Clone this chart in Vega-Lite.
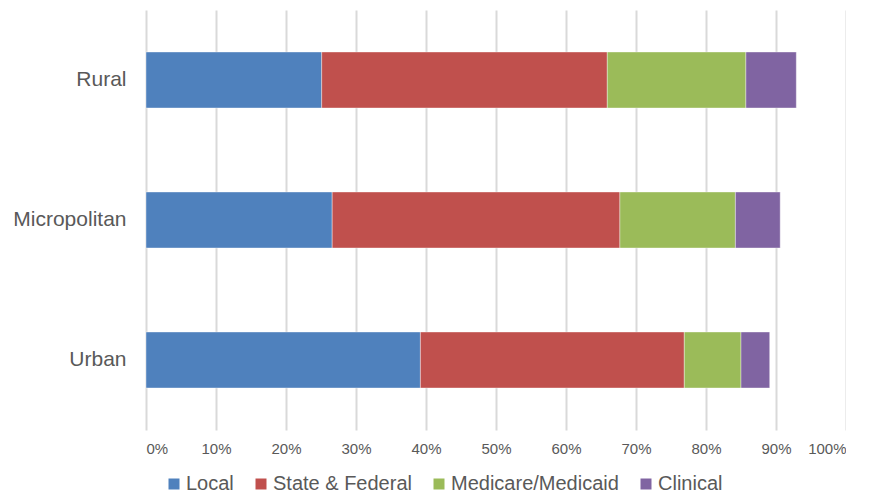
{
  "$schema": "https://vega.github.io/schema/vega-lite/v6.json",
  "width": 700,
  "height": 420,
  "padding": {"left": 12, "top": 10, "right": 0, "bottom": 0},
  "background": "#ffffff",
  "config": {
    "view": {"stroke": null},
    "font": "Liberation Sans",
    "axis": {"labelFont": "Liberation Sans", "labelColor": "#595959"}
  },
  "data": {
    "values": [
      {"area": "Rural", "source": "Local", "order": 1, "pct": 25.1},
      {"area": "Rural", "source": "State & Federal", "order": 2, "pct": 40.8},
      {"area": "Rural", "source": "Medicare/Medicaid", "order": 3, "pct": 19.8},
      {"area": "Rural", "source": "Clinical", "order": 4, "pct": 7.2},
      {"area": "Micropolitan", "source": "Local", "order": 1, "pct": 26.6},
      {"area": "Micropolitan", "source": "State & Federal", "order": 2, "pct": 41.1},
      {"area": "Micropolitan", "source": "Medicare/Medicaid", "order": 3, "pct": 16.5},
      {"area": "Micropolitan", "source": "Clinical", "order": 4, "pct": 6.4},
      {"area": "Urban", "source": "Local", "order": 1, "pct": 39.2},
      {"area": "Urban", "source": "State & Federal", "order": 2, "pct": 37.7},
      {"area": "Urban", "source": "Medicare/Medicaid", "order": 3, "pct": 8.1},
      {"area": "Urban", "source": "Clinical", "order": 4, "pct": 4.1}
    ]
  },
  "mark": {"type": "bar", "stroke": "#ffffff", "strokeWidth": 0.75, "strokeOpacity": 0.5},
  "encoding": {
    "y": {
      "field": "area",
      "type": "nominal",
      "sort": ["Rural", "Micropolitan", "Urban"],
      "scale": {"paddingInner": 0.6, "paddingOuter": 0.3},
      "axis": {
        "title": null,
        "domain": false,
        "ticks": false,
        "labelFontSize": 21,
        "labelPadding": 20,
        "grid": false
      }
    },
    "x": {
      "field": "pct",
      "type": "quantitative",
      "stack": "zero",
      "scale": {"domain": [0, 100], "nice": false},
      "axis": {
        "title": null,
        "values": [0, 10, 20, 30, 40, 50, 60, 70, 80, 90, 100],
        "labelExpr": "datum.value + '%'",
        "domain": false,
        "ticks": false,
        "grid": true,
        "gridColor": "#d9d9d9",
        "gridWidth": 2,
        "labelFontSize": 15,
        "labelPadding": 11
      }
    },
    "color": {
      "field": "source",
      "type": "nominal",
      "scale": {
        "domain": ["Local", "State & Federal", "Medicare/Medicaid", "Clinical"],
        "range": ["#4f81bd", "#c0504d", "#9bbb59", "#8064a2"]
      },
      "legend": {
        "title": null,
        "orient": "none",
        "direction": "horizontal",
        "legendX": 18,
        "legendY": 464,
        "padding": 0,
        "symbolType": "square",
        "symbolSize": 121,
        "symbolStrokeWidth": 0,
        "symbolOpacity": 1,
        "labelFont": "Liberation Sans",
        "labelFontSize": 20,
        "labelColor": "#595959",
        "labelOffset": 2,
        "labelLimit": 400,
        "columnPadding": 17
      }
    },
    "order": {"field": "order", "type": "quantitative"}
  }
}
